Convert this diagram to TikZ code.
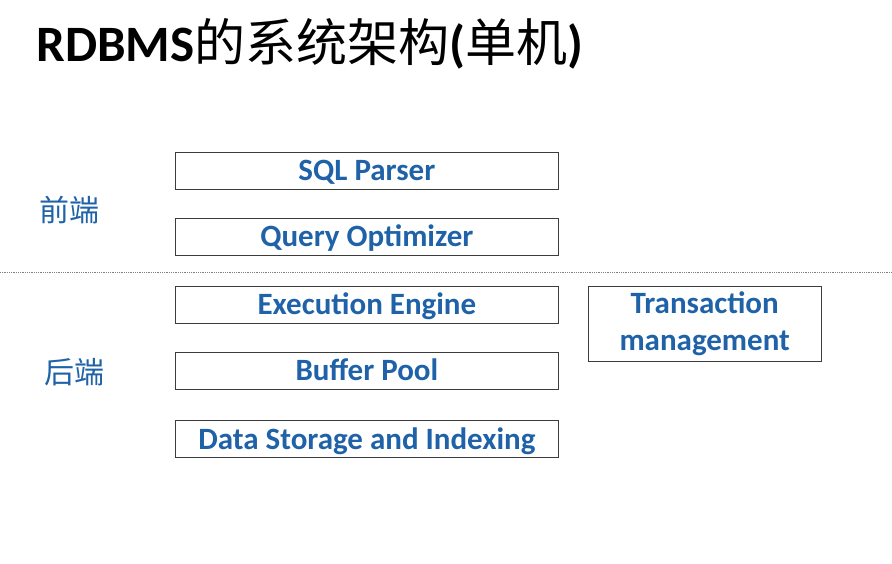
\documentclass[tikz,border=0pt]{standalone}
\usepackage{fontspec}
\setmainfont{Carlito}
\newfontfamily\cjk{Noto Sans CJK SC}
\usetikzlibrary{positioning}
\definecolor{textblue}{RGB}{31,98,168}
\definecolor{frame}{RGB}{60,60,60}

\begin{document}
\begin{tikzpicture}[x=1pt, y=1pt, node distance = 28pt, auto]
\tikzstyle{layer} = [rectangle, draw=frame, line width=0.8pt, text=textblue,
    font=\bfseries\fontsize{31}{37}\selectfont, minimum width=383pt,
    minimum height=37pt, inner sep=0pt, text height=20pt, text depth=0pt]
\tikzstyle{side} = [text=textblue, font=\cjk\fontsize{30}{34}\selectfont]
\tikzstyle{line} = [draw, gray, densely dotted, line width=0.8pt]
    \useasboundingbox (0,0) rectangle (892,-563);
    % Title
    \node [anchor=base west, font=\bfseries\fontsize{51}{55}\selectfont] (title) at (33,-61)
        {RDBMS{\cjk\mdseries 的系统架构}({\cjk\mdseries 单机})};
    % Place nodes
    \node [layer, anchor=north west] (parser) at (175,-152) {SQL Parser};
    \node [layer, below=of parser] (optimizer) {Query Optimizer};
    \node [layer, below=30pt of optimizer] (engine) {Execution Engine};
    \node [layer, below=28.5pt of engine] (buffer) {Buffer Pool};
    \node [layer, below=30.5pt of buffer] (storage) {Data Storage and Indexing};
    \node [layer, right=29pt of engine.north east, anchor=north west, text height=, text depth=,
        minimum width=233pt, minimum height=75pt, align=center] (txn) {Transaction\\management};
    \node [side] (front) at (69,-210) {前端};
    \node [side] (back) at (74,-372) {后端};

%divider
    \coordinate (divl) at (0,-272);
    \coordinate (divr) at (892,-272);
    \path [line] (divl) -- (divr);

\end{tikzpicture}
\end{document}
